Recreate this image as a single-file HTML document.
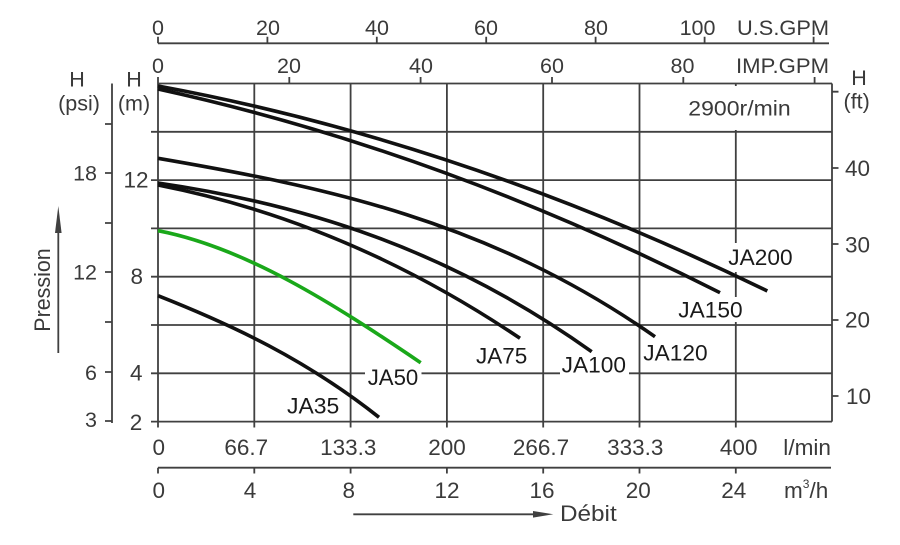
<!DOCTYPE html>
<html><head><meta charset="utf-8"><style>html,body{margin:0;padding:0;background:#fff}svg{display:block}</style></head>
<body>
<svg width="900" height="545" viewBox="0 0 900 545" xmlns="http://www.w3.org/2000/svg" font-family="Liberation Sans, Arial, sans-serif">
<rect width="900" height="545" fill="#fff"/>
<g stroke="#404040" stroke-width="1.8" fill="none">
<path d="M158,83.5V421.6M254.3,83.5V427.5M350.6,83.5V427.5M446.9,83.5V427.5M543.2,83.5V427.5M639.5,83.5V427.5M735.8,83.5V427.5M832,83.5V421.6M158,421.6V427.5"/>
<path d="M158,83.5H832M151,131.8H832M151,180.1H832M151,228.4H832M151,276.7H832M151,325H832M151,373.3H832M151,421.6H832"/>
<path d="M112,83.5V423M105,124H112M105,173H112M105,223H112M105,272H112M105,322H112M105,372H112M105,421H112"/>
<path d="M832,91.7H838.5M832,168H838.5M832,244H838.5M832,320H838.5M832,396H838.5"/>
<path d="M158,43.3H829M158,36.7V43.3M267.4,36.7V43.3M376.8,36.7V43.3M486.2,36.7V43.3M595.6,36.7V43.3M704.6,36.7V43.3M813.6,36.7V43.3"/>
<path d="M158,77V83.5M289.3,77V83.5M420.6,77V83.5M552,77V83.5M683.3,77V83.5M814.6,77V83.5"/>
<path d="M158,467.7H831M158,467.7V473.5M254.3,467.7V473.5M350.6,467.7V473.5M446.9,467.7V473.5M543.2,467.7V473.5M639.5,467.7V473.5M735.8,467.7V473.5"/>
<path d="M353.3,514.3H536M58.3,230V353"/>
</g>
<polygon points="553.3,514.3 533,511 533,517.6" fill="#404040"/>
<polygon points="58.3,206 55,233 61.6,233" fill="#404040"/>
<g fill="#fff">
<rect x="686" y="86" width="107" height="44"/>
<rect x="726" y="243" width="69" height="29"/>
<rect x="676" y="297" width="69" height="25"/>
<rect x="560" y="352" width="69" height="26"/>
<rect x="365" y="366" width="56.5" height="22"/>
</g>
<g fill="none" stroke="#111" stroke-width="3.6">
<path d="M158,86 C361.1,123.5 564.2,191.9 767.3,291"/>
<path d="M158,89 C345.3,130 532.7,197.9 720,292.7"/>
<path d="M158,158.3 C323.7,186.8 489.3,220.5 655,336.7"/>
<path d="M158,183 C302.6,204.1 447.1,248.45 591.7,351.7"/>
<path d="M158,185 C278.7,208.66 399.3,256.97 520,338.3"/>
<path d="M158,295.7 C231.7,324.8 305.3,359 379,417.3"/>
</g>
<path d="M158,230.7 C245.6,247.6 333.1,303.4 420.7,362.7" fill="none" stroke="#1aa81a" stroke-width="3.6"/>
<g fill="#3a3a3a" font-size="21.5">
<text x="158" y="35" text-anchor="middle">0</text>
<text x="268" y="35" text-anchor="middle">20</text>
<text x="377" y="35" text-anchor="middle">40</text>
<text x="486" y="35" text-anchor="middle">60</text>
<text x="596" y="35" text-anchor="middle">80</text>
<text x="697.5" y="35" text-anchor="middle">100</text>
<text x="737" y="35" textLength="92" lengthAdjust="spacingAndGlyphs">U.S.GPM</text>
<text x="158" y="73" text-anchor="middle">0</text>
<text x="289" y="73" text-anchor="middle">20</text>
<text x="421" y="73" text-anchor="middle">40</text>
<text x="552" y="73" text-anchor="middle">60</text>
<text x="682.5" y="73" text-anchor="middle">80</text>
<text x="736" y="73" textLength="93" lengthAdjust="spacingAndGlyphs">IMP.GPM</text>
<text x="688.3" y="115.5" textLength="102.4" lengthAdjust="spacingAndGlyphs">2900r/min</text>
<text x="77" y="86.7" text-anchor="middle">H</text>
<text x="79" y="110.5" text-anchor="middle">(psi)</text>
<text x="134" y="86.7" text-anchor="middle">H</text>
<text x="134" y="110.5" text-anchor="middle">(m)</text>
<text x="859" y="85" text-anchor="middle">H</text>
<text x="856.7" y="108.6" text-anchor="middle">(ft)</text>
<text x="97" y="180.5" text-anchor="end">18</text>
<text x="97" y="279.5" text-anchor="end">12</text>
<text x="97" y="380" text-anchor="end">6</text>
<text x="97" y="427" text-anchor="end">3</text>
</g>
<g fill="#3a3a3a" font-size="22.5">
<text x="136" y="187.3" text-anchor="middle">12</text>
<text x="136.7" y="284" text-anchor="middle">8</text>
<text x="136.3" y="380.7" text-anchor="middle">4</text>
<text x="136" y="430" text-anchor="middle">2</text>
<text x="845" y="176">40</text>
<text x="845" y="252.3">30</text>
<text x="845" y="327.7">20</text>
<text x="846" y="404">10</text>
</g>
<g fill="#3a3a3a" font-size="22.5">
<text x="158.7" y="455" text-anchor="middle">0</text>
<text x="246.3" y="455" text-anchor="middle">66.7</text>
<text x="348.3" y="455" text-anchor="middle">133.3</text>
<text x="447" y="455" text-anchor="middle">200</text>
<text x="541" y="455" text-anchor="middle">266.7</text>
<text x="635.3" y="455" text-anchor="middle">333.3</text>
<text x="738.7" y="455" text-anchor="middle">400</text>
<text x="783.3" y="455" textLength="47.7" lengthAdjust="spacingAndGlyphs">l/min</text>
<text x="158.7" y="498" text-anchor="middle">0</text>
<text x="250" y="498" text-anchor="middle">4</text>
<text x="348.8" y="498" text-anchor="middle">8</text>
<text x="447" y="498" text-anchor="middle">12</text>
<text x="542" y="498" text-anchor="middle">16</text>
<text x="638.3" y="498" text-anchor="middle">20</text>
<text x="733.8" y="498" text-anchor="middle">24</text>
<text x="784" y="498">m<tspan font-size="12" dy="-10">3</tspan><tspan dy="10">/h</tspan></text>
<text x="560" y="521" textLength="56.7" lengthAdjust="spacingAndGlyphs">Débit</text>
<text transform="translate(50,331.7) rotate(-90)" textLength="83.4" lengthAdjust="spacingAndGlyphs">Pression</text>
</g>
<g fill="#1a1a1a" font-size="22.5">
<text x="287" y="413.3" textLength="52.3" lengthAdjust="spacingAndGlyphs">JA35</text>
<text x="367.7" y="385" textLength="50.6" lengthAdjust="spacingAndGlyphs">JA50</text>
<text x="476" y="363.3" textLength="51.3" lengthAdjust="spacingAndGlyphs">JA75</text>
<text x="561.7" y="372.5" textLength="64.3" lengthAdjust="spacingAndGlyphs">JA100</text>
<text x="643.3" y="360.7" textLength="64.3" lengthAdjust="spacingAndGlyphs">JA120</text>
<text x="678.3" y="317.3" textLength="64.3" lengthAdjust="spacingAndGlyphs">JA150</text>
<text x="728.3" y="265" textLength="64.3" lengthAdjust="spacingAndGlyphs">JA200</text>
</g>
</svg>
</body></html>
